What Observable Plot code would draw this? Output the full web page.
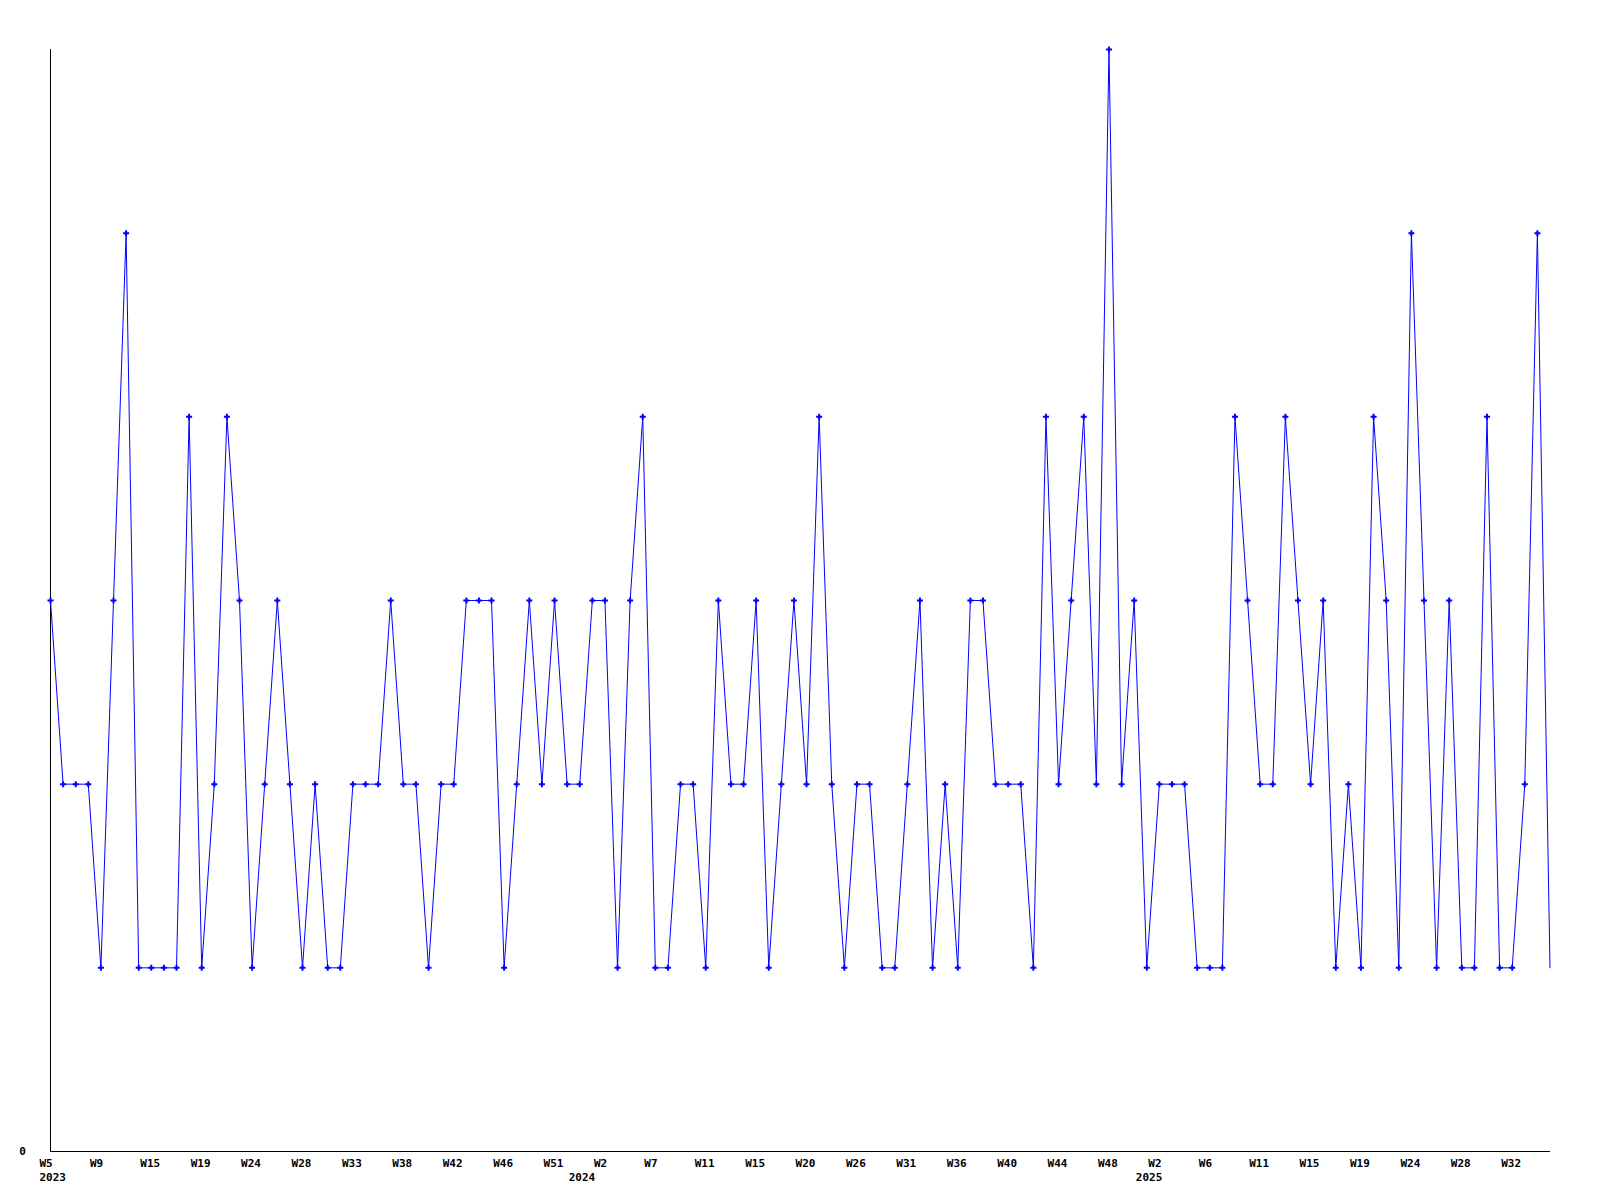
<!DOCTYPE html>
<html>
<head>
<meta charset="utf-8">
<script src="https://cdn.jsdelivr.net/npm/d3@7"></script>
<script src="https://cdn.jsdelivr.net/npm/@observablehq/plot@0.6"></script>
<style>
  html, body { margin: 0; padding: 0; background: #fff; }
  #chart svg { display: block; }
</style>
</head>
<body>
<div id="chart"></div>
<script>
// Weekly values, one per point (120 points, 2023 W5 onwards)
const values = [
  3, 2, 2, 2, 1, 3, 5, 1, 1, 1,
  1, 4, 1, 2, 4, 3, 1, 2, 3, 2,
  1, 2, 1, 1, 2, 2, 2, 3, 2, 2,
  1, 2, 2, 3, 3, 3, 1, 2, 3, 2,
  3, 2, 2, 3, 3, 1, 3, 4, 1, 1,
  2, 2, 1, 3, 2, 2, 3, 1, 2, 3,
  2, 4, 2, 1, 2, 2, 1, 1, 2, 3,
  1, 2, 1, 3, 3, 2, 2, 2, 1, 4,
  2, 3, 4, 2, 6, 2, 3, 1, 2, 2,
  2, 1, 1, 1, 4, 3, 2, 2, 4, 3,
  2, 3, 1, 2, 1, 4, 3, 1, 5, 3,
  1, 3, 1, 1, 4, 1, 1, 2, 5, 1
];

// Tick labels, one every 4th point
const weekLabels = [
  "W5", "W9", "W15", "W19", "W24", "W28", "W33", "W38", "W42", "W46", "W51",
  "W2", "W7", "W11", "W15", "W20", "W26", "W31", "W36", "W40", "W44", "W48",
  "W2", "W6", "W11", "W15", "W19", "W24", "W28", "W32"
];
const tickEvery = 4;

// Year labels and the point at which each year begins
const years = ["2023", "2024", "2025"];
const yearStartPoint = [0, 42, 87];

const yMax = 6;

const data = values.map((v, i) => ({ i, v }));
const ticks = weekLabels.map((t, k) => ({ i: k * tickEvery, t }));
const yearData = years.map((y, k) => ({ i: yearStartPoint[k], y }));

const blue = "#0000ff";
const font = "'DejaVu Sans Mono', 'Liberation Mono', monospace";

const chart = Plot.plot({
  width: 1600,
  height: 1200,
  marginLeft: 50,
  marginRight: 50.5,
  marginTop: 49,
  marginBottom: 49,
  x: { type: "linear", domain: [0, values.length - 1], axis: null },
  y: { domain: [0, yMax], axis: null },
  style: { fontFamily: font, fontWeight: "bold", fontSize: "11px", background: "#fff", color: "#000" },
  marks: [
    Plot.ruleY([0], { stroke: "#000", strokeWidth: 1, shapeRendering: "crispEdges" }),
    Plot.ruleX([0], { stroke: "#000", strokeWidth: 1, shapeRendering: "crispEdges" }),
    Plot.line(data, { x: "i", y: "v", stroke: blue, strokeWidth: 1 }),
    Plot.dot(data.slice(0, -1), { x: "i", y: "v", symbol: "plus", r: 2.1, stroke: blue, strokeWidth: 2 }),
    Plot.text(ticks, { x: "i", y: 0, text: "t", textAnchor: "start", dx: -11, dy: 11.5, fill: "#000" }),
    Plot.text(yearData, { x: "i", y: 0, text: "y", textAnchor: "start", dx: -11, dy: 26, fill: "#000" }),
    Plot.text([0], { x: 0, y: 0, text: d => String(d), textAnchor: "middle", dx: -28, dy: 0, fill: "#000" })
  ]
});

document.getElementById("chart").appendChild(chart);
</script>
</body>
</html>
